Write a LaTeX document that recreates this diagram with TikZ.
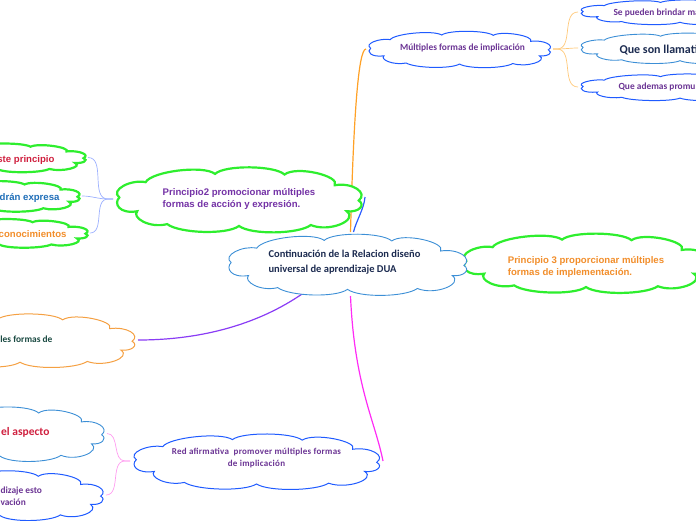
\documentclass[tikz,border=0pt]{standalone}
\usepackage{fontspec}
\newfontfamily\calfont{Carlito}
\newfontfamily\calspaced{Carlito}[LetterSpace=3]
\newfontfamily\arifont{Liberation Sans}
\definecolor{cblue}{HTML}{1F5BFF}
\definecolor{clight}{HTML}{3C8FD6}
\definecolor{cgreen}{HTML}{2EEE2E}
\definecolor{corange}{HTML}{F5A042}
\definecolor{konorange}{HTML}{FFA126}
\definecolor{konblue}{HTML}{2A5CFF}
\definecolor{konmag}{HTML}{FF2BF5}
\definecolor{konpurple}{HTML}{8A3CF5}
\definecolor{forkorange}{HTML}{FFC878}
\definecolor{forkblue}{HTML}{9DB1FF}
\definecolor{forkpink}{HTML}{FF9CF0}
\definecolor{tnavy}{HTML}{1C2B50}
\definecolor{tpurple}{HTML}{6B3494}
\definecolor{tpurple2}{HTML}{7432A6}
\definecolor{tcrimson}{HTML}{D0203F}
\definecolor{tblue}{HTML}{1F6EB8}
\definecolor{torange}{HTML}{F28E2B}
\definecolor{tteal}{HTML}{1A4A42}
\newcommand\mmcloud[4]{%
  \draw[#4, shift={(#1.center)}, xscale=0.95*#2, yscale=0.9*#3]
    (-1,-0.05) .. controls +(-0.08,-0.25) and +(-0.12,-0.1) .. (-0.78,-0.55)
    .. controls +(0.05,-0.35) and +(-0.1,-0.3) .. (-0.2,-0.82)
    .. controls +(0.08,-0.3) and +(-0.08,-0.3) .. (0.38,-0.8)
    .. controls +(0.1,-0.3) and +(0.05,-0.3) .. (0.8,-0.45)
    .. controls +(0.15,-0.1) and +(0.08,-0.25) .. (1,0.05)
    .. controls +(0.06,0.15) and +(0.1,0.05) .. (0.9,0.4)
    .. controls +(0.1,0.3) and +(0.15,0.25) .. (0.6,0.85)
    .. controls +(-0.1,0.3) and +(0.1,0.3) .. (0,0.88)
    .. controls +(-0.1,0.3) and +(0.1,0.3) .. (-0.6,0.82)
    .. controls +(-0.15,0.15) and +(-0.05,0.2) .. (-0.85,0.4)
    .. controls +(-0.15,0.1) and +(-0.05,0.2) .. (-1,-0.05) -- cycle;}
\tikzset{
  cloudbox/.style={inner sep=0pt, outer sep=0pt},
  cblueline/.style={draw=cblue, line width=1pt, fill=white},
  clightline/.style={draw=clight, line width=0.9pt, fill=white},
  cgreenline/.style={draw=cgreen, line width=2.2pt, fill=white},
  corangeline/.style={draw=corange, line width=1pt, fill=white},
  smallcal/.style={font=\calfont\bfseries\fontsize{9.4}{12}\selectfont},
  ari/.style={font=\arifont\bfseries\fontsize{9.6}{12}\selectfont},
  kon/.style={line width=1.2pt},
  fork/.style={line width=0.7pt},
}
\begin{document}
\begin{tikzpicture}[x=1pt,y=-1pt]
\path[use as bounding box, clip] (0,0) rectangle (696,520);
% cloud boxes
\node[cloudbox, minimum width=245pt, minimum height=64pt] (c0) at (347.5,264) {};
\node[cloudbox, minimum width=187pt, minimum height=38pt] (c1) at (459.5,49) {};
\node[cloudbox, minimum width=204pt, minimum height=26pt] (c1a) at (680,12) {};
\node[cloudbox, minimum width=204pt, minimum height=32pt] (c1b) at (680,48) {};
\node[cloudbox, minimum width=204pt, minimum height=28pt] (c1c) at (680,87) {};
\node[cloudbox, minimum width=252pt, minimum height=68pt] (c2) at (239,199) {};
\node[cloudbox, minimum width=180pt, minimum height=30pt] (c2a) at (-2,157.5) {};
\node[cloudbox, minimum width=180pt, minimum height=32pt] (c2b) at (-8,196) {};
\node[cloudbox, minimum width=180pt, minimum height=30pt] (c2c) at (0,233) {};
\node[cloudbox, minimum width=252pt, minimum height=62pt] (c3) at (586,262.5) {};
\node[cloudbox, minimum width=236pt, minimum height=56pt] (c4) at (20,340) {};
\node[cloudbox, minimum width=253pt, minimum height=58pt] (c5) at (256.5,461) {};
\node[cloudbox, minimum width=214pt, minimum height=57pt] (c5a) at (0,433.5) {};
\node[cloudbox, minimum width=212pt, minimum height=52pt] (c5b) at (0,495) {};
% connectors (drawn beneath clouds)
\draw[kon, konorange] ([xshift=3pt]c0.north) .. controls +(3,-110) and +(-8,0) .. (c1.west);
\draw[kon, konblue] ([xshift=6pt]c0.north) .. controls +(3,-12) and +(-1,12) .. ([yshift=2pt]c2.east);
\draw[kon, konmag] ([xshift=3pt]c0.south) .. controls +(4,90) and +(-8,-40) .. (c5.east);
\draw[kon, konpurple] ([xshift=-34.5pt,yshift=10pt]c0.south) .. controls +(-45,35) and +(70,0) .. (c4.east);
\foreach \t in {c1a,c1b,c1c}
  \draw[fork, forkorange] (c1.east) -- ([xshift=4pt]c1.east) to[out=0,in=180] (\t.west);
\foreach \t in {c2a,c2b,c2c}
  \draw[fork, forkblue] (c2.west) -- ([xshift=-5pt]c2.west) to[out=180,in=0] (\t.east);
\foreach \t in {c5a,c5b}
  \draw[fork, forkpink] (c5.west) -- ([xshift=-5pt]c5.west) to[out=180,in=0] (\t.east);
% clouds
\mmcloud{c1a}{102}{13}{cblueline}
\mmcloud{c1b}{102}{16}{clightline}
\mmcloud{c1c}{102}{14}{cblueline}
\mmcloud{c1}{93.5}{19}{cblueline}
\mmcloud{c2}{126}{34}{cgreenline}
\mmcloud{c2a}{90}{15}{cgreenline}
\mmcloud{c2b}{90}{16}{cgreenline}
\mmcloud{c2c}{90}{15}{cgreenline}
\mmcloud{c4}{118}{28}{corangeline}
\mmcloud{c5a}{107}{28.5}{clightline}
\mmcloud{c5b}{106}{26}{cblueline}
\mmcloud{c5}{126.5}{29}{cblueline}
\mmcloud{c3}{126}{31}{cgreenline}
\mmcloud{c0}{122.5}{32}{clightline}
% texts
\node[align=left, text=tnavy, font=\calfont\bfseries\fontsize{10.5}{14.5}\selectfont] (t0) at ([xshift=-3pt,yshift=2pt]c0.center) {Continuación de la Relacion diseño\\universal de aprendizaje DUA};
\node[smallcal, text=tpurple] (t1) at ([xshift=3pt,yshift=1pt]c1.center) {Múltiples formas de implicación};
\node[smallcal, text=tpurple, anchor=west] (t1a) at (610,13) {Se pueden brindar ma};
\node[text=tnavy, anchor=west, font=\calfont\bfseries\fontsize{12}{14}\selectfont] (t1b) at (616,50) {Que son llamati};
\node[smallcal, text=tpurple, anchor=west] (t1c) at (615,87) {Que ademas promu};
\node[ari, align=left, text=tpurple2] (t2) at ([yshift=0pt]c2.center) {Principio2 promocionar múltiples\\formas de acción y expresión.};
\node[ari, text=tcrimson, anchor=east] (t2a) at (58,160) {ste principio};
\node[ari, text=tblue, anchor=east] (t2b) at (63,198) {drán expresa};
\node[ari, text=torange, anchor=east] (t2c) at (70,234) {conocimientos};
\node[ari, align=left, text=torange] (t3) at ([yshift=-4pt]c3.center) {Principio 3 proporcionar múltiples\\formas de implementación.};
\node[smallcal, text=tteal, anchor=east] (t4) at (56,339) {les formas de};
\node[align=center, text=tpurple, font=\calspaced\bfseries\fontsize{9}{11.5}\selectfont] (t5) at ([yshift=3pt]c5.center) {Red afirmativa\ \ promover múltiples formas\\de implicación};
\node[text=tcrimson, anchor=east, font=\calfont\bfseries\fontsize{11.5}{13}\selectfont] (t5a) at (53,432) {el aspecto};
\node[smallcal, align=left, text=tpurple, anchor=west] (t5b) at (-3,496) {dizaje esto\\vación};
\end{tikzpicture}
\end{document}
